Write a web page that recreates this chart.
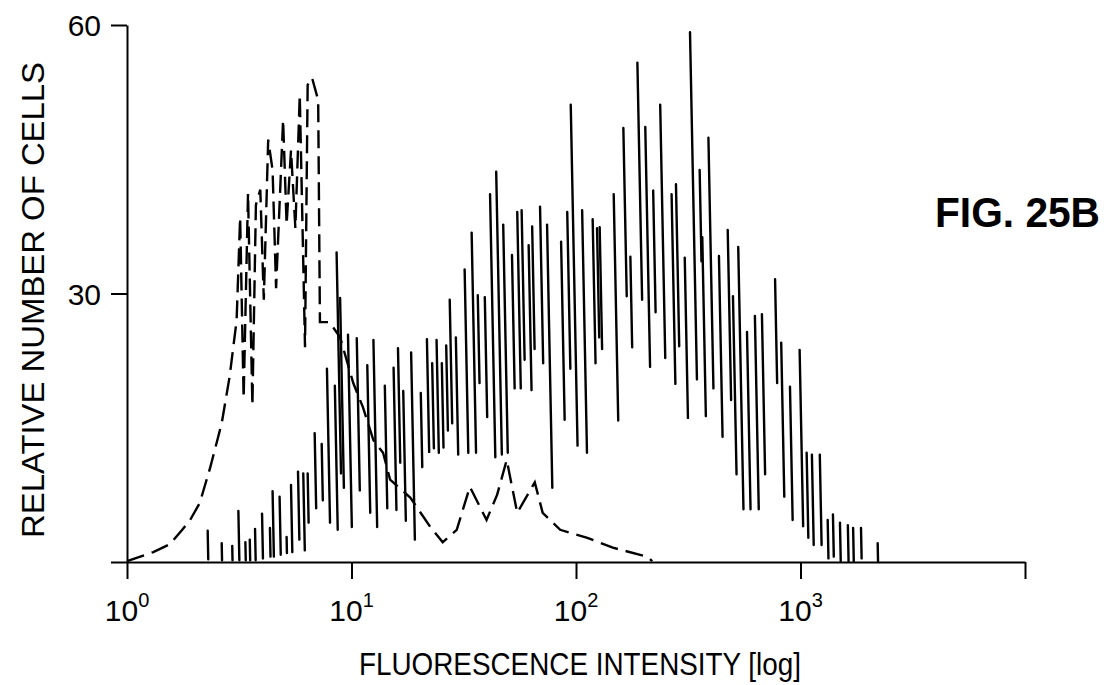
<!DOCTYPE html>
<html>
<head>
<meta charset="utf-8">
<script src="https://cdn.jsdelivr.net/npm/d3@7"></script>
<style>
  html, body { margin: 0; padding: 0; background: #fff; }
  svg { display: block; font-family: "Liberation Sans", Arial, sans-serif; }
</style>
</head>
<body>
<div id="root"></div>
<script>
// log-amplified channels, 256 per decade
let spikeChannel = [92,108,120,127,135,140,146,154,163,166,174,182,187,195,201,206,214,222,228,237,
  239,243,252,262,274,281,294,304,309,315,324,335,342,348,353,359,364,368,375,385,
  393,400,408,414,421,429,439,445,450,458,462,471,479,495,502,506,519,531,536,539,
  555,566,574,582,591,600,608,621,626,636,642,653,656,663,675,685,691,697,707,716,
  724,739,746,756,767,775,781,790,799,805,813,822,828,837,856];
let spikeTop = [3.5,2.1,1.8,5.7,2.2,2.5,3.7,5.4,3.8,7.9,7.3,2.8,8.6,10.1,9.9,9.9,14.4,13.2,21.6,19.7,
  34.6,29.5,25.4,25.0,22.0,24.8,19.7,21.7,23.9,19.1,23.4,18.9,24.9,22.2,24.8,22.2,24.2,29.3,25.1,32.7,
  36.8,29.8,29.6,41.1,43.6,37.7,34.3,39.1,39.3,35.4,37.5,39.7,37.7,35.8,39.1,51.1,39.3,38.3,37.3,37.4,
  41.1,48.5,34.1,55.8,48.6,41.5,51.1,41.1,42.2,34.0,59.2,43.8,36.3,47.4,34.2,37.1,29.7,35.2,25.7,27.5,
  27.7,31.6,24.5,19.6,23.7,12.2,12.0,12.0,4.7,5.3,4.4,4.1,3.8,3.8,2.1];
let spikeBottom = [0.3,0.2,0.2,0.2,0.2,0.2,0.2,0.4,0.6,0.6,0.8,1.0,1.1,2.5,1.3,4.4,6.0,6.9,4.4,3.6,
  9.9,8.3,3.9,8.0,5.5,3.9,6.0,5.8,11.1,4.6,2.5,10.6,12.3,12.7,12.2,12.8,14.7,15.5,12.0,12.2,
  12.2,20.0,16.2,11.7,12.0,12.2,19.4,19.4,22.6,19.2,23.8,22.2,8.3,15.9,21.6,13.0,12.2,22.2,25.1,23.8,
  15.8,29.7,24.0,29.3,21.8,27.9,22.8,19.9,24.1,16.1,20.4,33.6,16.3,19.4,14.0,18.1,9.8,5.9,5.9,5.9,
  9.8,20.0,7.3,4.7,4.0,2.7,1.9,1.9,0.4,0.6,0.1,0.1,0.1,0.4,0];

let ctrlChannel = [0,30,49,63,72,83,95,108,117,125,129,133,138,143,147,152,156,161,166,170,
  178,182,187,192,197,203,206,211,218,220,231,243,258,269,281,292,300,323,346,360,
  376,391,410,422,433,445,465,474,494,525,554,593,599];
let ctrlCount = [0.1,1.1,2.0,3.6,4.7,6.6,10.6,15.5,20.7,27.0,38.5,18.3,41.2,17.5,39.9,41.6,29.3,47.2,43.8,30.6,
  49.4,37.7,46.0,37.3,52.2,24.0,53.3,54.1,51.6,26.8,26.8,25.1,20.0,17.3,13.6,12.2,9.2,7.2,3.9,2.2,
  3.6,8.4,4.7,7.5,11.4,5.5,8.9,5.5,3.6,2.7,1.6,0.6,0.1];

let xTicks = [0, 256, 512, 768, 1024];
let xTickExp = ["0", "1", "2", "3", ""];
let yTicks = [0, 30, 60];
let yTickLabels = ["", "30", "60"];

let width = 1111,
  height = 685;
let margin = { top: 25, left: 127, right: 86, bottom: 123 };

let svg = d3
  .select("#root")
  .append("svg")
  .attr("width", width)
  .attr("height", height);

let x = d3
  .scaleLinear()
  .domain([0, 1024])
  .range([margin.left, width - margin.right]);
let y = d3
  .scaleLinear()
  .domain([0, 60])
  .range([height - margin.bottom, margin.top]);

// axes
svg
  .append("g")
  .attr("transform", `translate(0,${y(0)})`)
  .call(
    d3
      .axisBottom(x)
      .tickValues(xTicks)
      .tickSize(17)
      .tickSizeOuter(0)
      .tickFormat("")
  );
svg
  .append("g")
  .attr("transform", `translate(${x(0)},0)`)
  .call(
    d3
      .axisLeft(y)
      .tickValues(yTicks)
      .tickSize(16)
      .tickSizeOuter(0)
      .tickFormat("")
  );
svg.selectAll(".domain, .tick line")
  .attr("stroke", "#000")
  .attr("stroke-width", 2);

xTicks.forEach((t, i) => {
  if (!xTickExp[i]) return;
  let lbl = svg
    .append("text")
    .attr("x", x(t))
    .attr("y", 621)
    .attr("text-anchor", "middle")
    .attr("font-size", 30)
    .attr("fill", "#000");
  lbl.append("tspan").text("10");
  lbl
    .append("tspan")
    .attr("dy", -14)
    .attr("font-size", 20)
    .text(xTickExp[i]);
});

yTicks.forEach((t, i) => {
  svg
    .append("text")
    .attr("x", 101)
    .attr("y", y(t) + 11)
    .attr("text-anchor", "end")
    .attr("font-size", 30)
    .attr("fill", "#000")
    .text(yTickLabels[i]);
});

svg
  .append("text")
  .attr("x", 580)
  .attr("y", 675)
  .attr("text-anchor", "middle")
  .attr("font-size", 31)
  .attr("textLength", 442)
  .attr("lengthAdjust", "spacingAndGlyphs")
  .text("FLUORESCENCE INTENSITY [log]");

svg
  .append("text")
  .attr("transform", "translate(44,300) rotate(-90)")
  .attr("text-anchor", "middle")
  .attr("font-size", 31)
  .attr("textLength", 476)
  .attr("lengthAdjust", "spacingAndGlyphs")
  .text("RELATIVE NUMBER OF CELLS");

svg
  .append("text")
  .attr("x", 935)
  .attr("y", 227)
  .attr("font-size", 42)
  .attr("font-weight", "bold")
  .attr("textLength", 165)
  .attr("lengthAdjust", "spacingAndGlyphs")
  .text("FIG. 25B");

// stained sample: noisy histogram drawn as near-vertical strokes
let spikes = spikeChannel.map((c, i) => ({
  c: c,
  top: spikeTop[i],
  bottom: spikeBottom[i]
}));
svg
  .append("g")
  .selectAll("line")
  .data(spikes)
  .enter()
  .append("line")
  .attr("x1", d => x(d.c))
  .attr("y1", d => y(d.top))
  .attr("x2", d => x(d.c) + (y(d.bottom) - y(d.top)) * 0.02)
  .attr("y2", d => y(d.bottom))
  .attr("stroke", "#000")
  .attr("stroke-width", 2.4)
  .attr("stroke-linecap", "round");

// control: dashed trace
let ctrl = ctrlChannel.map((c, i) => [c, ctrlCount[i]]);
let line = d3
  .line()
  .x(d => x(d[0]))
  .y(d => y(d[1]));
svg
  .append("path")
  .datum(ctrl)
  .attr("d", line)
  .attr("fill", "none")
  .attr("stroke", "#000")
  .attr("stroke-width", 2.4)
  .attr("stroke-dasharray", "18,8");
</script>
</body>
</html>
